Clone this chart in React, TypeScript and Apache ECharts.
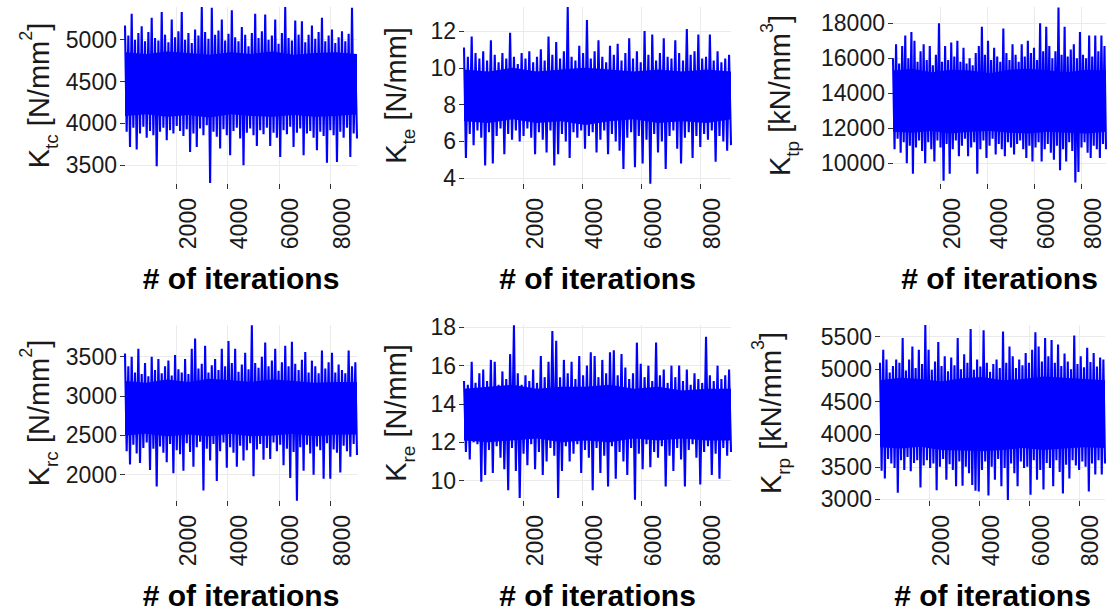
import React, { useEffect, useRef } from "react";
import * as echarts from "echarts";

// ---- data (per-bin upper / lower envelope of each MCMC trace) ----
const ITER_MAX = 9050;
const xTicks = [2000, 4000, 6000, 8000];

const ktcHigh = [5170,5050,5310,5000,5080,5160,4980,5090,5260,5020,4990,5330,5060,4970,5240,5030,5100,5330,5000,5080,4960,5120,5050,5390,5090,5010,5380,5060,5110,5240,4990,5070,5350,5030,4980,5150,5060,4920,5080,5310,5020,5100,5300,5000,5050,5240,4950,5080,5390,5020,4990,5230,5060,5220,4970,5060,5170,5010,5090,5260,4980,5050,5120,4960,5030,5100,4980,5070,5380,4760];
const ktcLow = [3900,3720,3950,3690,3880,3960,3830,3910,3860,3490,3900,3950,3800,3920,3880,3970,3910,3850,3930,3660,3880,3720,3940,3860,3980,3290,3900,3840,3700,3930,3860,3620,3910,3950,3820,3500,3890,3940,3860,3730,3920,3870,3950,3730,3890,3830,3600,3920,3870,3960,3720,3890,3940,3620,3880,3910,3830,3680,3900,3850,3530,3920,3860,3540,3900,3830,3950,3600,3880,3820];
const ktcCoreHigh = [4850, 4830, 4860, 4840, 4820, 4850, 4830, 4860, 4820, 4840, 4850, 4830];
const ktcCoreLow = [4090, 4110, 4080, 4100, 4070, 4110, 4090, 4080, 4100, 4080, 4090, 4110];
const ktcTicks = [3500, 4000, 4500, 5000];

const kteHigh = [11.1,10.6,11.7,10.8,10.5,10.9,10.4,11.5,10.7,10.3,10.8,10.5,11.9,10.6,10.2,10.8,10.5,10.9,10.3,10.6,11.0,10.4,11.7,10.7,11.4,10.5,10.9,13.3,10.6,10.4,11.2,10.8,12.6,10.5,10.9,11.5,10.6,10.3,11.2,10.7,11.3,10.4,10.8,11.6,10.5,10.9,10.3,12.0,10.7,11.8,10.4,10.8,11.6,10.6,10.5,11.5,10.8,10.4,12.1,10.7,10.9,11.8,10.5,10.6,11.8,10.4,10.9,10.3,10.5,10.7];
const kteLow = [5.1,6.4,5.8,6.6,6.2,4.7,6.5,4.8,6.3,6.7,5.3,6.4,6.1,6.6,6.0,6.3,6.7,6.2,5.3,6.5,6.1,5.4,6.6,4.7,5.3,6.4,6.0,5.1,6.5,6.2,6.6,5.6,6.3,6.5,5.4,6.1,6.6,5.3,6.4,6.0,5.5,4.5,6.2,6.5,4.6,6.3,4.8,6.1,3.7,6.4,5.4,6.0,4.5,6.3,6.6,5.6,4.8,6.2,6.5,5.1,6.3,5.7,6.4,6.1,6.6,4.9,6.3,6.0,5.5,5.8];
const kteCoreHigh = [9.9, 9.8, 10.0, 9.8, 9.9, 10.0, 9.9, 9.8, 9.9, 9.8, 9.9, 9.8];
const kteCoreLow = [7.1, 7.0, 7.2, 7.0, 7.1, 6.9, 7.1, 7.2, 7.0, 7.1, 7.0, 7.2];
const kteTicks = [4, 6, 8, 10, 12];

const ktpHigh = [16000,16800,15700,16700,17300,16000,17500,17000,15800,16400,16800,15900,16700,15600,16200,18000,15800,16700,15900,16900,16100,17000,15800,16600,15700,16000,15600,16300,16700,17800,16200,17000,15900,16600,16100,15800,17700,16300,15900,16800,16200,15800,16800,16100,17000,16300,16600,15900,18000,16400,17800,16700,16000,16400,18900,16200,17800,16100,16500,16800,16000,17500,16200,16000,17300,16100,17300,16400,17300,16700];
const ktpLow = [10800,11400,10600,11200,10000,11000,9400,10900,11300,10700,10000,11200,10800,10100,11300,10900,9000,11100,9400,10800,11300,10400,11000,11400,10400,10900,11200,9400,10800,11300,10300,11000,11400,10500,11100,10800,10400,11200,10900,10500,11100,11300,10800,10300,11000,10100,10900,11200,10100,10800,11100,10600,10200,11000,9600,10800,10100,11200,10700,8900,9500,10900,11200,10600,10300,11000,10800,10300,11100,10800];
const ktpCoreHigh = [15300, 15400, 15200, 15350, 15300, 15150, 15350, 15400, 15300, 15200, 15350, 15300];
const ktpCoreLow = [11800, 11750, 11850, 11700, 11800, 11850, 11750, 11700, 11800, 11750, 11700, 11800];
const ktpTicks = [10000, 12000, 14000, 16000, 18000];

const krcHigh = [3540,3380,3500,3300,3600,3280,3420,3250,3500,3330,3470,3290,3380,3450,3260,3520,3340,3300,3470,3280,3600,3730,3350,3410,3640,3300,3390,3470,3330,3600,3380,3700,3420,3600,3310,3400,3550,3340,3900,3420,3360,3500,3680,3380,3450,3600,3320,3430,3640,3380,3690,3410,3330,3460,3560,3300,3450,3380,3290,3580,3350,3430,3550,3300,3400,3330,3290,3580,3380,3430];
const krcLow = [2300,2130,2380,2270,2150,2340,2410,2060,2330,1850,2360,2280,2160,2390,2020,2310,2260,2050,2400,2290,2100,2350,2420,1800,2330,2180,2390,1920,2300,2410,2090,2350,2280,2100,2370,2180,2310,2400,1980,2320,2390,2190,2340,2200,2410,2300,2380,2120,2330,1960,2290,1670,2350,2050,2380,2270,2000,2360,2310,1950,2400,1950,2320,2280,2030,2370,2300,2230,2390,2250];
const krcCoreHigh = [3190, 3170, 3210, 3180, 3220, 3200, 3180, 3210, 3190, 3170, 3180, 3180];
const krcCoreLow = [2500, 2520, 2490, 2510, 2490, 2520, 2490, 2500, 2520, 2490, 2510, 2510];
const krcTicks = [2000, 2500, 3000, 3500];

const kreHigh = [15.2,15.0,16.2,15.1,15.6,15.8,15.2,16.3,16.2,15.0,15.7,15.3,16.6,18.1,15.6,15.0,15.5,15.2,15.8,15.1,16.5,15.4,16.2,17.8,17.3,15.4,16.3,15.6,16.2,15.3,16.5,15.5,16.0,16.7,16.5,15.4,16.3,15.6,16.7,16.8,15.5,16.6,15.9,15.3,15.6,17.2,16.1,15.4,16.0,15.2,17.2,15.5,15.8,15.1,16.0,15.4,16.0,15.2,15.8,15.0,15.6,15.3,15.1,17.5,15.5,15.2,16.0,15.3,15.5,15.8];
const kreLow = [11.5,11.1,12.0,11.9,9.95,10.3,11.6,10.4,11.8,11.2,10.6,9.5,11.7,10.5,9.1,11.4,10.8,11.9,10.6,11.5,10.3,11.0,11.7,11.3,9.1,10.5,11.8,11.0,11.4,11.9,10.4,11.6,11.2,9.5,11.7,10.4,11.3,9.7,11.8,10.1,11.5,11.0,10.3,11.7,9.0,11.4,10.6,11.9,10.7,11.5,11.2,11.8,9.7,11.3,10.5,11.7,11.1,9.7,11.6,11.9,11.2,9.8,11.5,11.8,10.3,11.4,10.1,11.7,11.3,11.5];
const kreCoreHigh = [14.8, 14.9, 15.0, 14.8, 14.9, 14.9, 15.0, 14.8, 14.9, 14.7, 14.8, 14.8];
const kreCoreLow = [12.1, 12.0, 12.1, 12.2, 12.0, 12.1, 12.0, 12.2, 12.1, 12.2, 12.1, 12.1];
const kreTicks = [10, 12, 14, 16, 18];

const krpHigh = [5100,5300,5150,4950,5050,5150,5100,5480,4980,5150,5350,5020,5300,5080,5680,5300,4990,5120,5420,5050,5200,4970,5180,5060,5480,5000,5230,5100,5620,4990,5150,5040,5600,5100,4960,5080,5150,5020,5580,5100,5350,5200,5020,5150,5060,5250,5100,5300,5570,5350,5120,5480,5200,5450,5100,5380,5050,5240,5120,5000,5520,5080,5200,5030,5330,5110,5250,5040,5180,5150];
const krpLow = [3440,3320,3620,3550,3480,3100,3600,3450,3650,3430,3560,3600,3180,3520,3600,3480,3550,3140,3500,3620,3300,3540,3450,3200,3580,3210,3500,3400,3220,3130,3120,3450,3580,3060,3500,3300,3620,3200,3480,2990,3550,3400,3200,3580,3480,3500,3070,3600,3300,3450,3150,3560,3480,3200,3600,3420,3090,3530,3320,3600,3520,3450,3580,3500,3120,3550,3380,3600,3380,3550];
const krpCoreHigh = [4830, 4870, 4850, 4810, 4860, 4880, 4830, 4850, 4890, 4870, 4850, 4830];
const krpCoreLow = [3800, 3780, 3810, 3760, 3750, 3740, 3760, 3790, 3760, 3780, 3800, 3790];
const krpTicks = [3000, 3500, 4000, 4500, 5000, 5500];

const yTitles = [
  "{k|K}{sub|tc}{k| [N/mm}{sup|2}{k|]}",
  "{k|K}{sub|te}{k| [N/mm]}",
  "{k|K}{sub|tp}{k| [kN/mm}{sup|3}{k|]}",
  "{k|K}{sub|rc}{k| [N/mm}{sup|2}{k|]}",
  "{k|K}{sub|re}{k| [N/mm]}",
  "{k|K}{sub|rp}{k| [kN/mm}{sup|3}{k|]}",
];
const xTitle = "# of iterations";

const panels = [
  { high: ktcHigh, low: ktcLow, coreHigh: ktcCoreHigh, coreLow: ktcCoreLow, ticks: ktcTicks, title: yTitles[0] },
  { high: kteHigh, low: kteLow, coreHigh: kteCoreHigh, coreLow: kteCoreLow, ticks: kteTicks, title: yTitles[1] },
  { high: ktpHigh, low: ktpLow, coreHigh: ktpCoreHigh, coreLow: ktpCoreLow, ticks: ktpTicks, title: yTitles[2] },
  { high: krcHigh, low: krcLow, coreHigh: krcCoreHigh, coreLow: krcCoreLow, ticks: krcTicks, title: yTitles[3] },
  { high: kreHigh, low: kreLow, coreHigh: kreCoreHigh, coreLow: kreCoreLow, ticks: kreTicks, title: yTitles[4] },
  { high: krpHigh, low: krpLow, coreHigh: krpCoreHigh, coreLow: krpCoreLow, ticks: krpTicks, title: yTitles[5] },
];

// ---- layout (pixels / axis extents) ----
const layout = [
  { left: 125, top: 7, width: 232, height: 177, yMin: 3277, yMax: 5390, nameGap: 64 },
  { left: 464, top: 7, width: 267, height: 177, yMin: 3.69, yMax: 13.3, nameGap: 46 },
  { left: 893, top: 7, width: 213, height: 177, yMin: 8817, yMax: 18931, nameGap: 91 },
  { left: 125, top: 325, width: 232, height: 176, yMin: 1666, yMax: 3903, nameGap: 64 },
  { left: 464, top: 325, width: 267, height: 176, yMin: 8.94, yMax: 18.12, nameGap: 46 },
  { left: 880, top: 325, width: 225, height: 176, yMin: 2974, yMax: 5680, nameGap: 87 },
];

const FONT = "'Liberation Sans', Arial, Helvetica, sans-serif";
const BLUE = "#0000ff";
const GRID = "#ebebeb";
const TEXT = "#1a1a1a";

function traceData(high: number[], low: number[]): number[][] {
  const n = high.length * 2;
  const pts: number[][] = [];
  for (let b = 0; b < high.length; b++) {
    pts.push([((2 * b) * ITER_MAX) / (n - 1), high[b]]);
    pts.push([((2 * b + 1) * ITER_MAX) / (n - 1), low[b]]);
  }
  return pts;
}

function coreSeries(i: number, hi: number[], lo: number[]) {
  const n = hi.length;
  const xs = hi.map((_, k) => (k * ITER_MAX) / (n - 1));
  return {
    type: "custom",
    xAxisIndex: i,
    yAxisIndex: i,
    silent: true,
    clip: true,
    z: 1,
    data: [[ITER_MAX / 2, (hi[0] + lo[0]) / 2]],
    renderItem: (_params: any, api: any) => {
      const pts: number[][] = [];
      for (let k = 0; k < n; k++) pts.push(api.coord([xs[k], hi[k]]));
      for (let k = n - 1; k >= 0; k--) pts.push(api.coord([xs[k], lo[k]]));
      return { type: "polygon", shape: { points: pts }, style: { fill: BLUE } };
    },
  };
}

function buildOption() {
  const grid: any[] = [];
  const xAxis: any[] = [];
  const yAxis: any[] = [];
  const series: any[] = [];
  panels.forEach((p, i) => {
    const L = layout[i];
    grid.push({ left: L.left, top: L.top, width: L.width, height: L.height, containLabel: false });
    xAxis.push({
      type: "value",
      gridIndex: i,
      min: 0,
      max: ITER_MAX,
      axisLine: { show: false },
      axisTick: { show: true, customValues: xTicks, length: 5, lineStyle: { color: "#333", width: 1 } },
      axisLabel: {
        customValues: xTicks,
        rotate: 90,
        verticalAlign: "top",
        margin: 14,
        fontSize: 23,
        fontFamily: FONT,
        color: TEXT,
        formatter: (v: number) => String(v),
      },
      splitLine: { show: true, lineStyle: { color: GRID, width: 1 } },
      name: xTitle,
      nameLocation: "middle",
      nameGap: 79,
      nameTextStyle: { fontSize: 30, fontWeight: "bold", fontFamily: FONT, color: "#000" },
    });
    yAxis.push({
      type: "value",
      gridIndex: i,
      min: L.yMin,
      max: L.yMax,
      axisLine: { show: false },
      axisTick: { show: true, customValues: p.ticks, length: 5, lineStyle: { color: "#333", width: 1 } },
      axisLabel: {
        customValues: p.ticks,
        margin: 8,
        fontSize: 23,
        fontFamily: FONT,
        color: TEXT,
        formatter: (v: number) => String(v),
      },
      splitLine: { show: true, lineStyle: { color: GRID, width: 1 } },
      name: p.title,
      nameLocation: "middle",
      nameRotate: 90,
      nameGap: L.nameGap,
      nameTextStyle: {
        fontFamily: FONT,
        color: TEXT,
        rich: {
          k: { fontSize: 29, lineHeight: 44, fontFamily: FONT, color: TEXT },
          sub: { fontSize: 19, lineHeight: 20, verticalAlign: "bottom", fontFamily: FONT, color: TEXT },
          sup: { fontSize: 18, lineHeight: 14, verticalAlign: "top", fontFamily: FONT, color: TEXT },
        },
      },
    });
    series.push(coreSeries(i, p.coreHigh, p.coreLow));
    series.push({
      type: "line",
      xAxisIndex: i,
      yAxisIndex: i,
      data: traceData(p.high, p.low),
      showSymbol: false,
      symbol: "none",
      clip: true,
      z: 2,
      lineStyle: { color: BLUE, width: 2.1 },
      silent: true,
    });
  });
  return { animation: false, backgroundColor: "#ffffff", grid, xAxis, yAxis, series };
}

export default function App() {
  const ref = useRef<HTMLDivElement>(null);
  useEffect(() => {
    if (!ref.current) return;
    const chart = echarts.init(ref.current, null, { renderer: "svg" });
    chart.setOption(buildOption());
    return () => chart.dispose();
  }, []);
  return (
    <div
      ref={ref}
      style={{ position: "absolute", left: 0, top: 0, width: 1111, height: 613, background: "#fff" }}
    />
  );
}
